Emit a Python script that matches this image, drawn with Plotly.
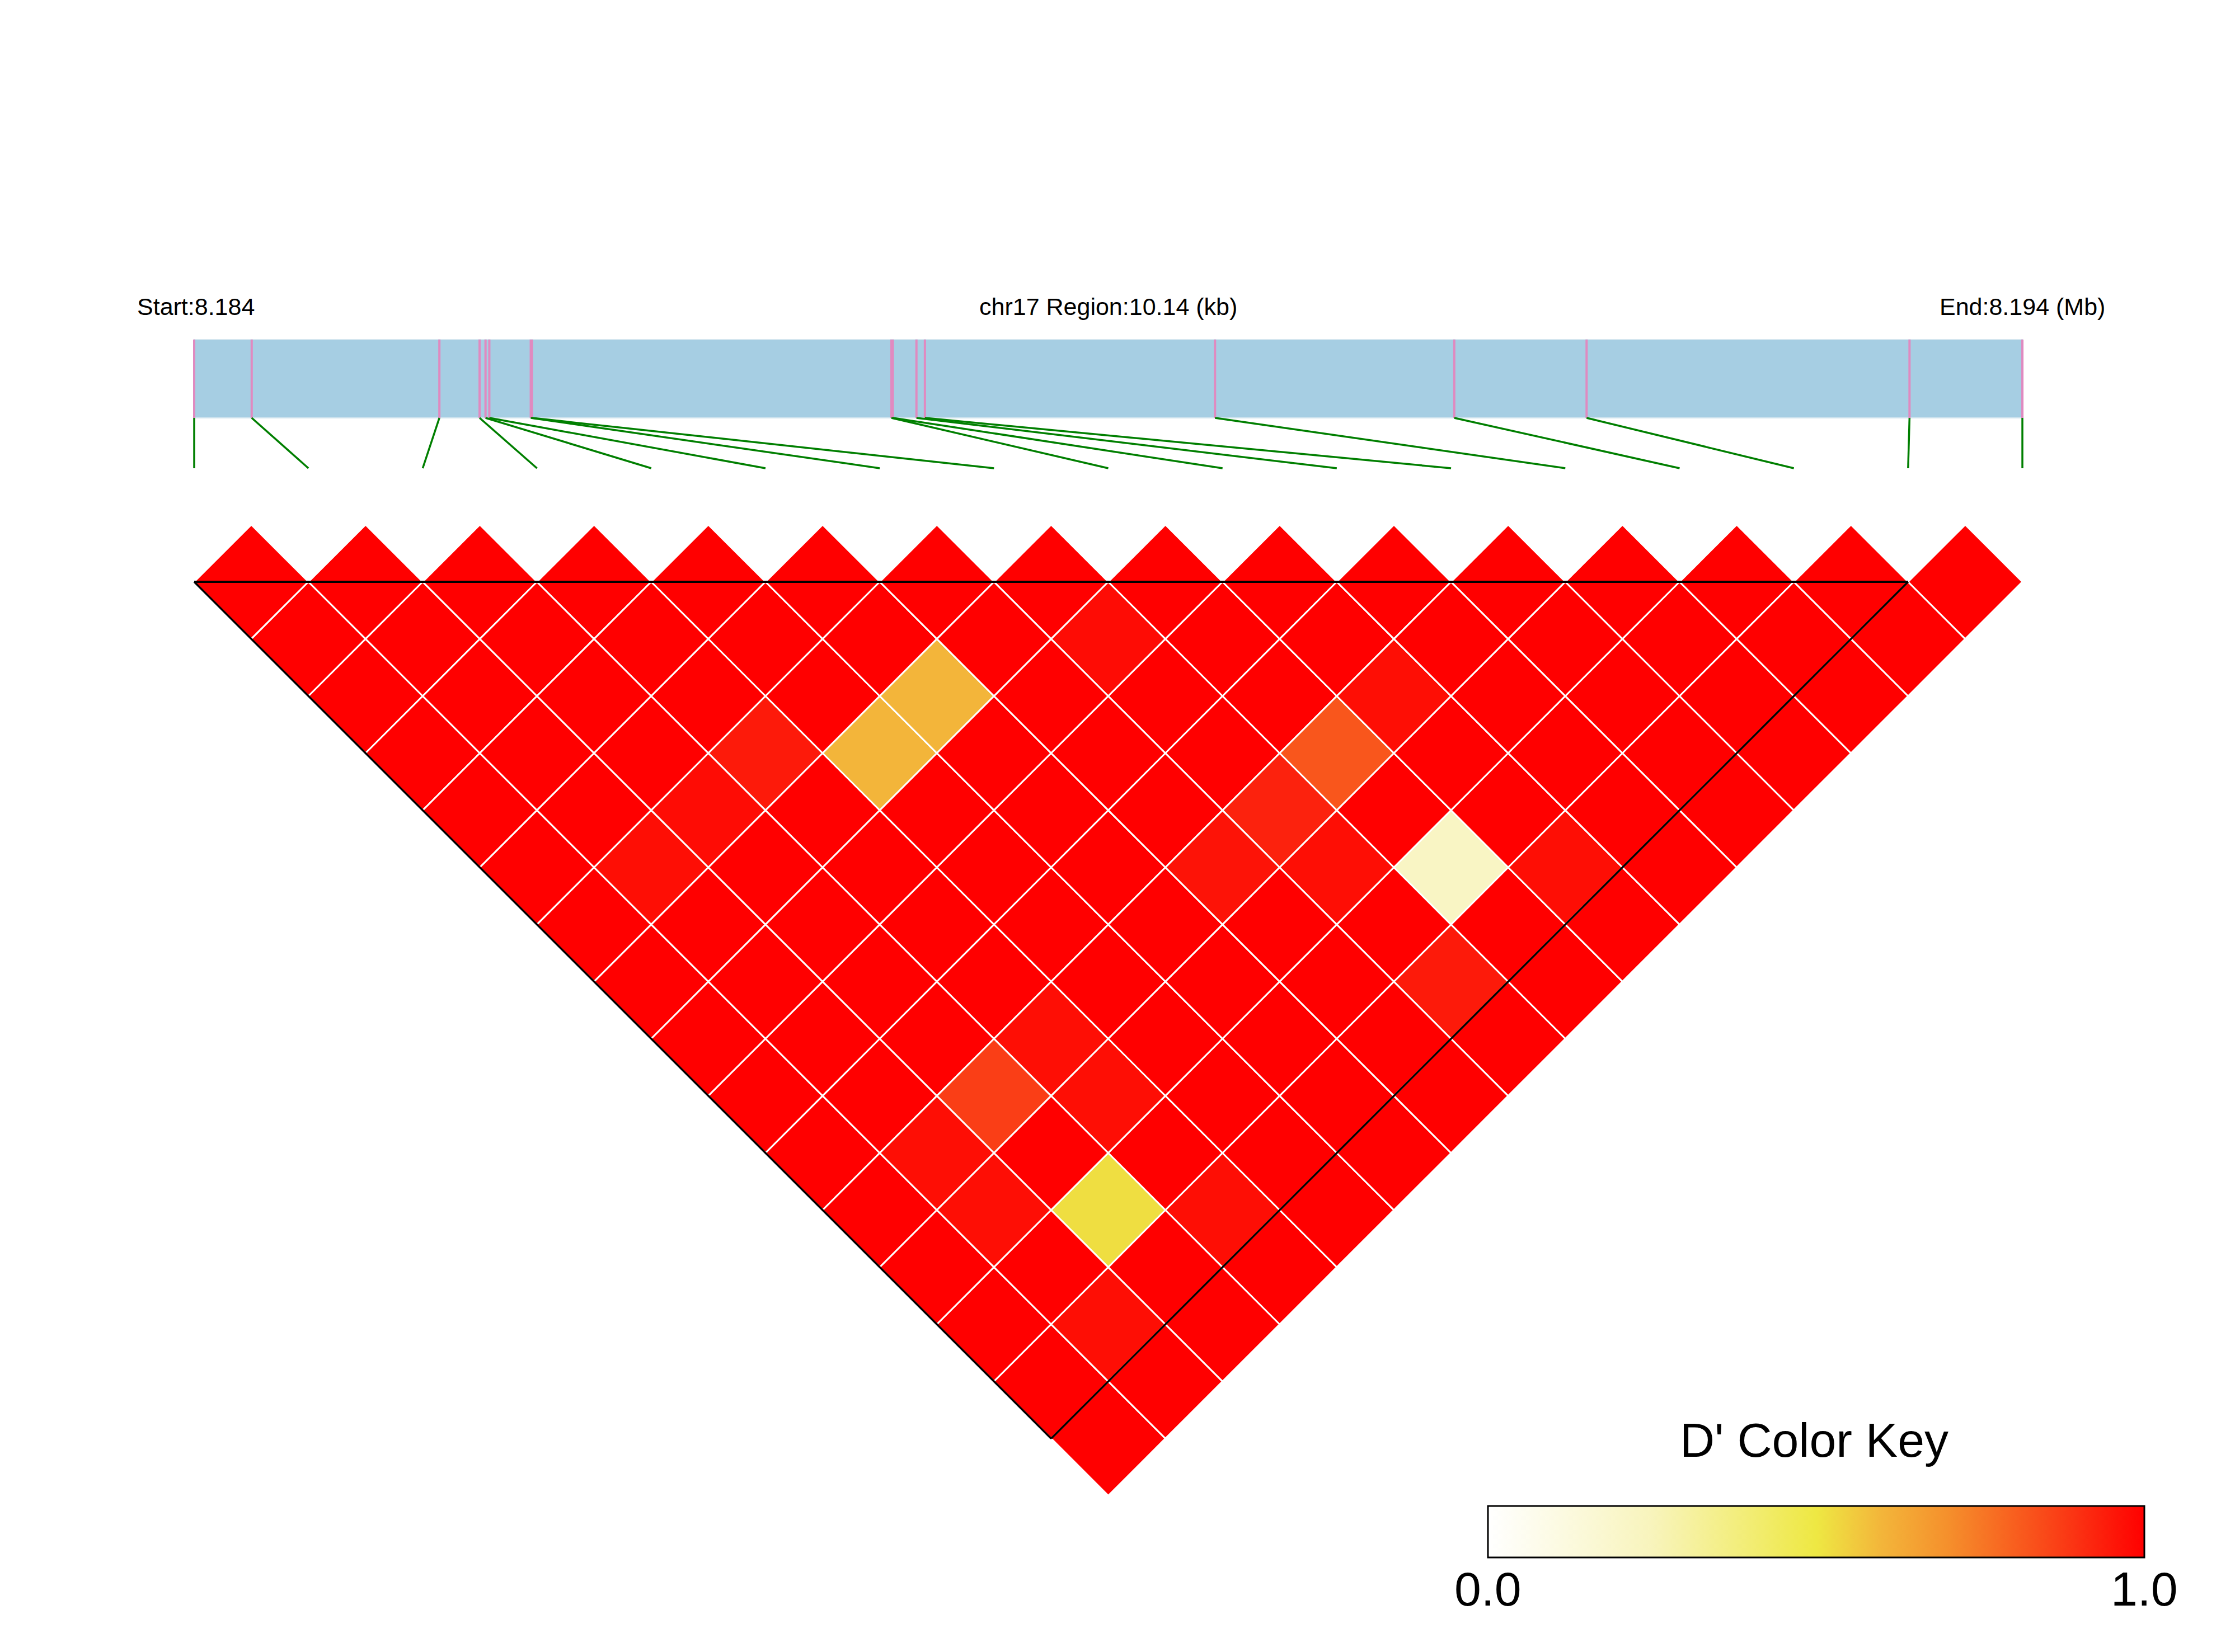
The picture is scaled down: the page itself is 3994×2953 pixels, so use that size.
import plotly.graph_objects as go

# ---------------- data ----------------
chrom = "chr17"
snp_pos = [8184100, 8184419, 8185460, 8185683, 8185716, 8185737, 8185967, 8185973,
           8187967, 8187975, 8188106, 8188153, 8189762, 8191089, 8191823, 8193614, 8194240]

# D' values, row i = pairs (i, i+1), (i, i+2), ... (i, n-1)
dprime_rows = [
    [1.00, 1.00, 1.00, 1.00, 1.00, 1.00, 1.00, 1.00, 1.00, 1.00, 1.00, 1.00, 1.00, 1.00, 1.00, 1.00],
    [1.00, 1.00, 1.00, 1.00, 1.00, 0.97, 1.00, 1.00, 1.00, 1.00, 0.97, 0.97, 1.00, 0.97, 1.00],
    [1.00, 1.00, 1.00, 1.00, 0.975, 1.00, 1.00, 1.00, 1.00, 0.87, 1.00, 0.52, 1.00, 1.00],
    [1.00, 1.00, 1.00, 0.945, 1.00, 1.00, 1.00, 1.00, 0.97, 0.97, 1.00, 0.97, 1.00],
    [1.00, 1.00, 1.00, 0.60, 1.00, 1.00, 1.00, 1.00, 1.00, 1.00, 1.00, 1.00],
    [1.00, 1.00, 0.60, 1.00, 1.00, 1.00, 1.00, 1.00, 1.00, 1.00, 1.00],
    [1.00, 1.00, 1.00, 1.00, 1.00, 0.96, 1.00, 1.00, 1.00, 1.00],
    [1.00, 0.975, 1.00, 1.00, 0.93, 0.97, 1.00, 0.945, 1.00],
    [1.00, 1.00, 1.00, 0.82, 1.00, 0.22, 1.00, 1.00],
    [1.00, 1.00, 0.97, 1.00, 1.00, 0.97, 1.00],
    [1.00, 1.00, 1.00, 1.00, 1.00, 1.00],
    [1.00, 1.00, 1.00, 1.00, 1.00],
    [1.00, 1.00, 1.00, 1.00],
    [1.00, 1.00, 1.00],
    [1.00, 1.00],
    [1.00],
]

key_ticks = [0.0, 1.0]
key_ticktext = ["0.0", "1.0"]

colorscale = [
    [0.00, "#FFFFFF"],
    [0.25, "#F8F4BC"],
    [0.50, "#EEE843"],
    [0.60, "#F3B53A"],
    [0.70, "#F5902C"],
    [0.80, "#F8601F"],
    [0.90, "#FB3012"],
    [1.00, "#FF0000"],
]

# ---------------- geometry (page pixels of the 3994x2953 window) ----------------
W, H = 3994, 2953
OFF = 8.0             # default body margin of the html page
PX_UNIT = 204.19      # pixels per SNP step
X0_PX, Y0_PX = 347.0 - OFF, 1040.0 - OFF   # figure pixels of SNP 0 / top line
FONT = "Liberation Sans, Arial, Helvetica, sans-serif"


def ypx(page_px):
    return (page_px - OFF - Y0_PX) / PX_UNIT


def xpx(page_px):
    return (page_px - OFF - X0_PX) / PX_UNIT


def paper_x(page_px):
    return (page_px - OFF) / W


def paper_y(page_px):
    return 1 - (page_px - OFF) / H


n = len(snp_pos)
span = snp_pos[-1] - snp_pos[0]
phys_x = [(p - snp_pos[0]) / span * (n - 1) for p in snp_pos]

BAR_TOP, BAR_BOT = ypx(607), ypx(747)
LINK_END = ypx(837)
TEXT_Y = ypx(548)

# color key box (page px)
KEY_L, KEY_R, KEY_T, KEY_B = 2659, 3832, 2692, 2784

# cells
cx, cy, cv = [], [], []
for i, row in enumerate(dprime_rows):
    for k, v in enumerate(row):
        j = i + 1 + k
        cx.append((i + j) / 2)
        cy.append((j - i - 1) / 2)
        cv.append(v)

fig = go.Figure()

# SNP marks in the region bar
px_, py_ = [], []
for x in phys_x:
    px_ += [x, x, None]
    py_ += [BAR_TOP, BAR_BOT, None]
fig.add_trace(go.Scatter(x=px_, y=py_, mode="lines",
                         line=dict(color="#E08AC0", width=4),
                         hoverinfo="skip", showlegend=False))

# links from physical to index positions
gx, gy = [], []
for k, x in enumerate(phys_x):
    gx += [x, k, None]
    gy += [BAR_BOT, LINK_END, None]
fig.add_trace(go.Scatter(x=gx, y=gy, mode="lines",
                         line=dict(color="#007F00", width=3.5),
                         hoverinfo="skip", showlegend=False))

# LD cells as diamonds
diamond_size = (0.5 * PX_UNIT) / 0.65
fig.add_trace(go.Scatter(
    x=cx, y=cy, mode="markers",
    marker=dict(symbol="diamond", size=diamond_size, color=cv,
                colorscale=colorscale, cmin=0, cmax=1,
                line=dict(color="white", width=3),
                showscale=True,
                colorbar=dict(
                    orientation="h", thicknessmode="pixels", thickness=KEY_B - KEY_T,
                    lenmode="pixels", len=KEY_R - KEY_L,
                    x=paper_x((KEY_L + KEY_R) / 2), xanchor="center",
                    y=paper_y(KEY_T), yanchor="top", ypad=0, xpad=0,
                    outlinecolor="black", outlinewidth=3,
                    tickvals=key_ticks, ticks="", showticklabels=False,
                )),
    hovertemplate="D'=%{marker.color}<extra></extra>", showlegend=False))

shapes = [
    dict(type="rect", xref="x", yref="y", x0=0, x1=n - 1, y0=BAR_TOP, y1=BAR_BOT,
         fillcolor="#A6CEE3", line=dict(color="#D4E6EF", width=2), layer="below"),
    dict(type="line", xref="x", yref="y", x0=0, y0=0, x1=n - 2, y1=0,
         line=dict(color="black", width=4), layer="above"),
    dict(type="line", xref="x", yref="y", x0=0, y0=0, x1=(n - 2) / 2, y1=(n - 2) / 2,
         line=dict(color="black", width=3.5), layer="above"),
    dict(type="line", xref="x", yref="y", x0=n - 2, y0=0, x1=(n - 2) / 2, y1=(n - 2) / 2,
         line=dict(color="black", width=3.5), layer="above"),
]

annotations = [
    dict(x=xpx(243), y=TEXT_Y, xref="x", yref="y", xanchor="left", yanchor="middle",
         text=f"Start:{snp_pos[0] / 1e6:.3f}", showarrow=False,
         font=dict(size=43, color="black", family=FONT)),
    dict(x=(n - 1) / 2, y=TEXT_Y, xref="x", yref="y", xanchor="center", yanchor="middle",
         text=f"{chrom} Region:{span / 1000:.2f} (kb)", showarrow=False,
         font=dict(size=43, color="black", family=FONT)),
    dict(x=xpx(3764), y=TEXT_Y, xref="x", yref="y", xanchor="right", yanchor="middle",
         text=f"End:{snp_pos[-1] / 1e6:.3f} (Mb)", showarrow=False,
         font=dict(size=43, color="black", family=FONT)),
    dict(x=paper_x(3242), y=paper_y(2574), xref="paper", yref="paper",
         xanchor="center", yanchor="middle", text="D' Color Key", showarrow=False,
         font=dict(size=86, color="black", family=FONT)),
]
for tv, tt in zip(key_ticks, key_ticktext):
    annotations.append(dict(
        x=paper_x(KEY_L + tv * (KEY_R - KEY_L)), y=paper_y(2840),
        xref="paper", yref="paper", xanchor="center", yanchor="middle",
        text=tt, showarrow=False, font=dict(size=86, color="black", family=FONT)))

fig.update_layout(
    width=W, height=H, margin=dict(l=0, r=0, t=0, b=0),
    paper_bgcolor="white", plot_bgcolor="white",
    xaxis=dict(range=[-X0_PX / PX_UNIT, (W - X0_PX) / PX_UNIT], visible=False,
               fixedrange=True, domain=[0, 1]),
    yaxis=dict(range=[(H - Y0_PX) / PX_UNIT, -Y0_PX / PX_UNIT], visible=False,
               fixedrange=True, domain=[0, 1]),
    shapes=shapes, annotations=annotations, showlegend=False,
    font=dict(family=FONT),
)

fig.write_html("out.html")
